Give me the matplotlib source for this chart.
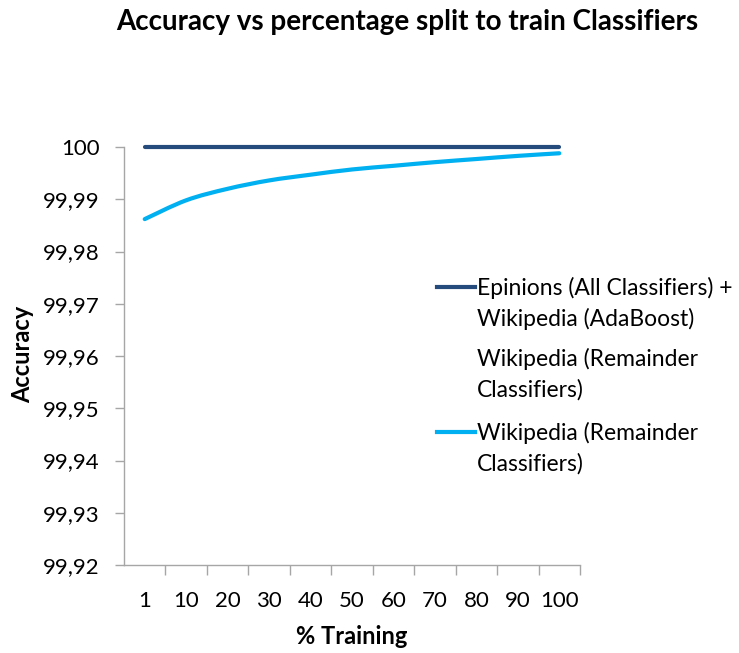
import matplotlib
matplotlib.use("Agg")
import matplotlib.pyplot as plt
from matplotlib.lines import Line2D
from matplotlib.path import Path
from matplotlib.patches import PathPatch
from matplotlib.ticker import FixedLocator, FuncFormatter

categories = ["1", "10", "20", "30", "40", "50", "60", "70", "80", "90", "100"]
epinions_all = [100, 100, 100, 100, 100, 100, 100, 100, 100, 100, 100]
wiki_remainder = [99.9862, 99.9898, 99.9920, 99.9936, 99.9947, 99.9957,
                  99.9964, 99.9971, 99.9977, 99.9983, 99.9988]
series_labels = ["Epinions (All Classifiers) +\nWikipedia (AdaBoost)",
                 "Wikipedia (Remainder\nClassifiers)",
                 "Wikipedia (Remainder\nClassifiers)"]
y_ticks = [99.92, 99.93, 99.94, 99.95, 99.96, 99.97, 99.98, 99.99, 100.0]

plt.rcParams['font.family'] = ['Lato', 'DejaVu Sans']

W, H = 739, 653
fig = plt.figure(figsize=(W / 100, H / 100), dpi=100)
ax = fig.add_axes([124 / W, 1 - 565 / H, (580 - 124) / W, (565 - 147) / H])

dark = '#254A7C'
light = '#00B0F0'


def smooth_path(xs, ys):
    """Excel-style smoothed line: Catmull-Rom converted to cubic Beziers."""
    pts = list(zip(xs, ys))
    n = len(pts)
    verts = [pts[0]]
    codes = [Path.MOVETO]
    for i in range(n - 1):
        p0 = pts[i - 1] if i > 0 else pts[i]
        p1 = pts[i]
        p2 = pts[i + 1]
        p3 = pts[i + 2] if i + 2 < n else pts[i + 1]
        c1 = (p1[0] + (p2[0] - p0[0]) / 6, p1[1] + (p2[1] - p0[1]) / 6)
        c2 = (p2[0] - (p3[0] - p1[0]) / 6, p2[1] - (p3[1] - p1[1]) / 6)
        verts += [c1, c2, p2]
        codes += [Path.CURVE4] * 3
    return Path(verts, codes)


x = list(range(len(categories)))
ax.add_patch(PathPatch(smooth_path(x, wiki_remainder), fill=False,
                       edgecolor='white', lw=3, zorder=2))
ax.add_patch(PathPatch(smooth_path(x, wiki_remainder), fill=False,
                       edgecolor=light, lw=3, capstyle='round', zorder=3))
ax.plot(x, epinions_all, color=dark, lw=3, solid_capstyle='round', zorder=4,
        clip_on=False)

ax.set_xlim(-0.5, len(categories) - 0.5)
ax.set_ylim(99.92, 100.0)

for s in ['top', 'right']:
    ax.spines[s].set_visible(False)
for s in ['left', 'bottom']:
    ax.spines[s].set_color('#A6A6A6')
    ax.spines[s].set_linewidth(1)

ax.yaxis.set_major_locator(FixedLocator(y_ticks))
ax.yaxis.set_major_formatter(FuncFormatter(
    lambda v, p: ("%g" % round(v, 2)).replace('.', ',')))
ax.tick_params(axis='y', direction='out', length=6.5, width=1, color='#A6A6A6',
               labelsize=16, pad=11, labelcolor='black')

ax.set_xticks(x)
ax.set_xticklabels(categories)
ax.set_xticks([i + 0.5 for i in x], minor=True)
ax.tick_params(axis='x', which='major', length=0, labelsize=16, pad=19)
ax.tick_params(axis='x', which='minor', direction='out', length=7, width=1,
               color='#A6A6A6')

fig.text(407 / W, 1 - 22 / H, "Accuracy vs percentage split to train Classifiers",
         ha='center', va='center', fontsize=20, fontweight='bold')
fig.text(23 / W, 1 - 354 / H, "Accuracy", rotation=90, ha='center', va='center',
         fontsize=17, fontweight='bold')
fig.text(352 / W, 1 - 636 / H, "% Training", ha='center', va='center',
         fontsize=17, fontweight='bold')

# Legend drawn manually so that each handle sits on the first text line
leg_colors = [dark, 'white', light]
first_baselines = [295, 366, 440]
line_step = 31
text_x = 477
for label, col, base in zip(series_labels, leg_colors, first_baselines):
    fig.add_artist(Line2D([437 / W, 475 / W], [1 - (base - 8) / H] * 2,
                          color=col, lw=3, transform=fig.transFigure))
    for k, line in enumerate(label.split('\n')):
        fig.text(text_x / W, 1 - (base + k * line_step) / H, line,
                 ha='left', va='baseline', fontsize=16.5)

fig.savefig("out.png", dpi=100)
